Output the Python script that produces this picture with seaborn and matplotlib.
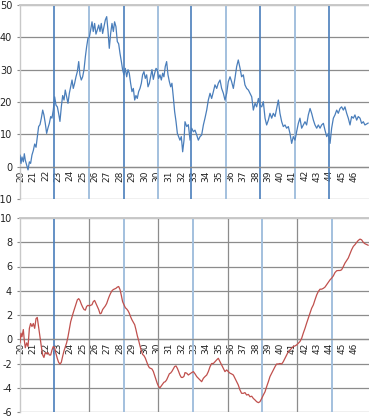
import numpy as np
import matplotlib
matplotlib.use("Agg")
import matplotlib.pyplot as plt
import seaborn as sns
import pandas as pd

sns.set_style("white")
plt.rcParams['font.family'] = ['DejaVu Sans']
plt.rcParams['axes.unicode_minus'] = False

# ---- category tick labels (note the repeated 30) ----
tick_labels = ["20", "21", "22", "23", "24", "25", "26", "27", "28", "29", "30", "30",
               "31", "32", "33", "34", "35", "36", "37", "38", "39", "40", "41", "42",
               "43", "44", "45", "46"]

# ---- sample positions (in tick-label units) ----
pos_a = [-0.08, 0.00, 0.08, 0.19, 0.27, 0.35, 0.46, 0.57, 0.68, 0.78, 0.89,
         1.00, 1.11, 1.22, 1.32, 1.43, 1.54, 1.65, 1.76, 1.86, 1.97, 2.08, 2.19, 2.30, 2.41,
         2.51, 2.62, 2.73, 2.84, 2.95, 3.05, 3.16, 3.27, 3.38, 3.49, 3.59, 3.70, 3.81, 3.92,
         4.03, 4.14, 4.24, 4.35, 4.46, 4.57, 4.68, 4.78, 4.89, 5.00, 5.11, 5.22, 5.32, 5.43,
         5.54, 5.65, 5.76, 5.86, 5.97, 6.08, 6.19, 6.30, 6.41, 6.51, 6.62, 6.73, 6.84, 6.95,
         7.05, 7.16, 7.27, 7.38, 7.49, 7.59, 7.70, 7.81, 7.92, 8.03, 8.14, 8.24, 8.35, 8.46,
         8.57, 8.68, 8.78, 8.89, 9.00, 9.11, 9.22, 9.32, 9.43, 9.54, 9.65, 9.76, 9.86, 9.97,
         10.08, 10.19, 10.30, 10.41, 10.51, 10.62, 10.73, 10.84, 10.95, 11.05, 11.16, 11.27,
         11.38, 11.49, 11.59, 11.70, 11.81, 11.92, 12.03, 12.14, 12.24, 12.35, 12.46, 12.57,
         12.68, 12.78, 12.89, 13.00, 13.11, 13.22]
pos_b = [13.30, 13.44, 13.57, 13.71, 13.84, 13.98, 14.11, 14.25, 14.38, 14.52,
         14.65, 14.79, 14.92, 15.06, 15.19, 15.33, 15.46, 15.60, 15.73, 15.87,
         16.00, 16.14, 16.27, 16.41, 16.54, 16.68, 16.81, 16.95, 17.08, 17.22,
         17.35, 17.49, 17.62, 17.76, 17.89, 18.03, 18.16, 18.30, 18.44, 18.57,
         18.71, 18.84, 18.98, 19.11, 19.25, 19.38, 19.52, 19.65, 19.79, 19.92,
         20.06, 20.19, 20.33, 20.46, 20.60, 20.73, 20.87, 21.00, 21.14, 21.27,
         21.41, 21.54, 21.68, 21.81, 21.95, 22.08, 22.22, 22.35, 22.49, 22.62,
         22.76, 22.89, 23.03, 23.16, 23.30, 23.44, 23.57, 23.71, 23.84, 23.98,
         24.11, 24.25, 24.38, 24.52, 24.65, 24.79, 24.92, 25.06, 25.19, 25.33,
         25.46, 25.60, 25.73, 25.87, 26.00, 26.14, 26.27, 26.41, 26.54, 26.68,
         26.81, 26.95, 27.08, 27.22, 27.35, 27.49, 27.62, 27.76, 27.89, 28.16]

# ---- top series (blue) ----
top_a = [3.6, 1, 3, 1.5, 4, 2, 0.5, -1, 1.5, 1, 3.6,
         5, 7, 6, 9,
         12.4, 13, 15, 17.5, 16, 13.4, 10.3, 12, 13.4, 15.5,
         15, 17.5, 21.6, 19, 18.5, 16.5, 14, 18.5, 22, 20.6,
         23.7, 21.6, 19.6, 22.7, 24.7, 26.8, 24.2, 25.8, 27.8, 29.4,
         32.5, 28.4, 26.8, 27.8, 30, 34, 37, 39.7, 40, 42.3,
         44.8, 41.8, 44.3, 41, 42.3, 43.8, 41.8, 44.3, 41.2, 43.3,
         45.4, 46.4, 42.3, 36.6, 41.2, 44.3, 41.8, 44.8, 43.3, 38.7,
         38, 35, 32.5, 30, 28.4, 30.4, 27.8, 30, 28.9, 25.8,
         23.2, 24.2, 20.6, 22, 21.1, 23.2, 24.2, 25.8, 28.4, 29.4,
         27.3, 28.4, 24.7, 25.8, 27.8, 30, 27, 28.9, 30.4, 30,
         27.3, 28.4, 26.8, 28.9, 27.8, 31, 32.5, 28.4, 26.3, 24.7,
         25.8, 21.6, 17, 14, 10.3, 9.3, 8.2, 9.3, 4.6, 8.2]
top_b = [13.9, 12.4, 13, 8.2, 11.9, 10.8, 11.3, 9.8, 8.2, 9.3,
         9.8, 12.9, 15, 17.5, 20.6, 22.7, 21.1, 23.2, 25.3, 24.2,
         25.8, 26.8, 24.2, 22.7, 20.6, 22.7, 26.3, 27.8, 26.3, 24.2,
         27.3, 31, 33, 30.5, 27.8, 28.4, 25.3, 24.2, 23.7, 22.7,
         21.6, 17.5, 19.6, 18.5, 21.1, 19, 18.5, 20.1, 15, 12.9,
         14.4, 16.5, 15, 16.5, 15.5, 18, 20.6, 16.5, 13.9, 12.4,
         12.9, 11.9, 12.4, 10.3, 7.2, 9.3, 8.2, 10.8, 13.4, 15,
         11.9, 12.9, 13.9, 12.9, 16, 18, 16.5, 14.4, 12.9, 11.9,
         12.9, 11.9, 12.9, 13.4, 11.3, 9.3, 10.3, 7.2, 11.9, 15,
         16, 17.5, 16.5, 18, 18.5, 17.5, 18.5, 16.5, 15, 12.9,
         15.5, 15, 16, 14.4, 15.5, 15, 13.4, 13.9, 12.9, 13.5]

# ---- bottom series (red) ----
bot_a = [-0.3, 0.5, 0.2, 0.8, -0.1, -0.7, -0.3, -0.6, 0.9, 1.3, 1.05,
         1.3, 0.9, 1.7, 1.8, 1.0, 0.2, -0.6, -1.3, -1.5, -1.1,
         -1.2, -1.1, -1.3, -1.3, -0.9, -0.6, -0.7, -1.2, -1.6, -1.9,
         -2.05, -1.9, -1.4, -0.95, -0.65, -0.3, 0.2, 0.85, 1.45, 1.85,
         2.2, 2.55, 2.9, 3.25, 3.35, 3.2, 2.9, 2.65, 2.45, 2.4,
         2.7, 2.8, 2.75, 2.8, 2.85, 3.1, 3.2, 2.95, 2.7, 2.45,
         2.1, 2.15, 2.45, 2.6, 2.75, 2.95, 3.25, 3.55, 3.8, 4.0,
         4.1, 4.15, 4.2, 4.3, 4.35, 4.1, 3.6, 3.1, 2.85, 2.6,
         2.5, 2.35, 2.15, 1.85, 1.6, 1.4, 1.2, 0.8, 0.3, -0.1,
         -0.55, -0.95, -1.25, -1.35, -1.55, -1.85, -2.15, -2.35, -2.4, -2.45,
         -2.65, -3.0, -3.35, -3.65, -3.9, -4.0, -3.85, -3.7, -3.55, -3.5,
         -3.35, -3.1, -2.85, -2.78, -2.65, -2.45, -2.25, -2.2, -2.4, -2.65,
         -2.95, -3.15, -3.15, -3.05]
bot_b = [-2.75, -2.8, -2.95, -2.85, -2.75, -2.67, -2.85, -3.08, -3.22, -3.36,
         -3.5, -3.22, -3.08, -2.95, -2.67, -2.26, -2.0, -2.0, -1.85, -1.7,
         -1.57, -1.85, -2.12, -2.4, -2.67, -2.53, -2.67, -2.8, -2.86, -2.95,
         -3.22, -3.5, -3.77, -4.19, -4.46, -4.46, -4.4, -4.6, -4.55, -4.74,
         -4.7, -4.88, -5.01, -5.15, -5.23, -5.15, -4.88, -4.6, -4.33, -3.91,
         -3.5, -3.08, -2.8, -2.53, -2.26, -2.04, -2.04, -2.0, -2.04, -1.85,
         -1.57, -1.3, -1.02, -0.88, -0.74, -0.6, -0.55, -0.47, -0.33, -0.19,
         0.08, 0.5, 0.9, 1.32, 1.74, 2.15, 2.56, 2.84, 3.25, 3.66,
         3.94, 4.13, 4.13, 4.2, 4.3, 4.5, 4.68, 4.9, 5.04, 5.23,
         5.5, 5.65, 5.67, 5.67, 5.73, 6.0, 6.28, 6.5, 6.7, 7.05,
         7.38, 7.66, 7.8, 7.99, 8.15, 8.26, 8.2, 7.99, 7.88, 7.75]

# ---- vertical marker lines (tick-label units) ----
top_dark_marks = [2.68, 8.35, 13.8, 19.4, 24.95]
top_light_marks = [5.5, 11.1, 16.65, 22.2]
bot_grid_marks = [5.55, 11.15, 16.75, 22.35]
bot_dark_marks = [2.68]
bot_light_marks = [8.35, 13.95, 19.55, 25.2]

top_yticks = [-10, 0, 10, 20, 30, 40, 50]
bot_yticks = [-6, -4, -2, 0, 2, 4, 6, 8, 10]

BLUE = "#4a7ebb"
RED = "#c0504d"
DARK_MARK = "#4a7ebb"
LIGHT_MARK = "#a3c0de"
GRID = "#8c8c8c"
EDGE = "#c8c8c8"

W, H = 369, 418
fig = plt.figure(figsize=(W / 100, H / 100), dpi=100)
ax1 = fig.add_axes([20 / W, (H - 199) / H, 349 / W, 194 / H])
ax2 = fig.add_axes([20 / W, (H - 412) / H, 349 / W, 194 / H])

pos = pos_a + pos_b
df_top = pd.DataFrame({"t": pos, "v": top_a + top_b})
df_bot = pd.DataFrame({"t": pos, "v": bot_a + bot_b})

for m in top_dark_marks:
    ax1.axvline(m, color=DARK_MARK, lw=1.2, zorder=1)
for m in top_light_marks:
    ax1.axvline(m, color=LIGHT_MARK, lw=1.4, zorder=1)
for m in bot_grid_marks:
    ax2.axvline(m, color=GRID, lw=0.9, zorder=1)
for m in bot_dark_marks:
    ax2.axvline(m, color=DARK_MARK, lw=1.2, zorder=1)
for m in bot_light_marks:
    ax2.axvline(m, color=LIGHT_MARK, lw=1.4, zorder=1)

sns.lineplot(data=df_top, x="t", y="v", ax=ax1, color=BLUE, lw=0.9,
             estimator=None, sort=False, zorder=3)
sns.lineplot(data=df_bot, x="t", y="v", ax=ax2, color=RED, lw=0.9,
             estimator=None, sort=False, zorder=3)


def style(ax, yticks):
    ax.set_xlim(-0.08, 28.22)
    ax.set_ylim(yticks[0], yticks[-1])
    ax.set_yticks(yticks)
    ax.set_yticklabels([str(v) for v in yticks])
    ax.grid(axis="y", color=GRID, lw=0.9)
    ax.grid(axis="x", visible=False)
    ax.set_axisbelow(True)
    ax.spines["bottom"].set_position(("data", 0))
    ax.spines["bottom"].set_color(GRID)
    ax.spines["bottom"].set_linewidth(0.9)
    ax.spines["right"].set_visible(False)
    ax.spines["top"].set_visible(True)
    ax.spines["top"].set_color(EDGE)
    ax.spines["top"].set_linewidth(1.4)
    ax.spines["left"].set_visible(True)
    ax.spines["left"].set_color(EDGE)
    ax.spines["left"].set_linewidth(1.0)
    ax.set_xticks(range(len(tick_labels)))
    ax.set_xticklabels(tick_labels, rotation=90, fontsize=6.5, color="#222222")
    ax.tick_params(axis="x", length=0, pad=2.5)
    ax.tick_params(axis="y", length=2.2, width=0.8, color=GRID, labelsize=7,
                   pad=3.5, direction="out", left=True, labelcolor="#222222")
    ax.set_xlabel("")
    ax.set_ylabel("")


style(ax1, top_yticks)
style(ax2, bot_yticks)

fig.savefig("out.png", dpi=100)
